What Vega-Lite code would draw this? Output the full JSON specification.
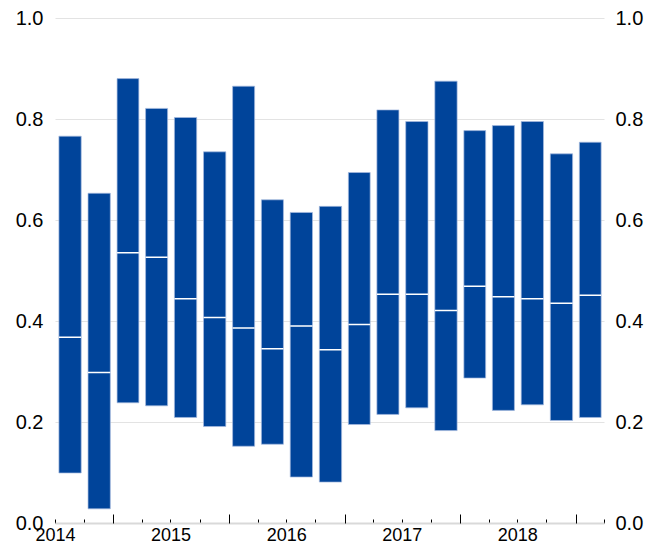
{
  "$schema": "https://vega.github.io/schema/vega-lite/v6.json",
  "width": 549,
  "height": 505,
  "autosize": {"type": "none"},
  "padding": {"left": 55, "top": 18, "right": 57, "bottom": 26},
  "background": "white",
  "config": {
    "view": {"stroke": null},
    "font": "Liberation Sans",
    "axis": {"labelFont": "Liberation Sans", "labelColor": "#000000", "titleFont": "Liberation Sans"}
  },
  "data": {
    "values": [
      {"date": "2014/08/15", "low": 0.099, "median": 0.368, "high": 0.766},
      {"date": "2014/11/15", "low": 0.028, "median": 0.298, "high": 0.653},
      {"date": "2015/02/15", "low": 0.238, "median": 0.535, "high": 0.880},
      {"date": "2015/05/15", "low": 0.232, "median": 0.526, "high": 0.821},
      {"date": "2015/08/15", "low": 0.209, "median": 0.444, "high": 0.803},
      {"date": "2015/11/15", "low": 0.191, "median": 0.407, "high": 0.735},
      {"date": "2016/02/15", "low": 0.152, "median": 0.386, "high": 0.865},
      {"date": "2016/05/15", "low": 0.156, "median": 0.345, "high": 0.640},
      {"date": "2016/08/15", "low": 0.091, "median": 0.390, "high": 0.615},
      {"date": "2016/11/15", "low": 0.081, "median": 0.343, "high": 0.627},
      {"date": "2017/02/15", "low": 0.195, "median": 0.393, "high": 0.694},
      {"date": "2017/05/15", "low": 0.215, "median": 0.453, "high": 0.818},
      {"date": "2017/08/15", "low": 0.228, "median": 0.453, "high": 0.795},
      {"date": "2017/11/15", "low": 0.183, "median": 0.421, "high": 0.875},
      {"date": "2018/02/15", "low": 0.287, "median": 0.469, "high": 0.777},
      {"date": "2018/05/15", "low": 0.223, "median": 0.448, "high": 0.787},
      {"date": "2018/08/15", "low": 0.234, "median": 0.444, "high": 0.795},
      {"date": "2018/11/15", "low": 0.203, "median": 0.435, "high": 0.731},
      {"date": "2019/02/15", "low": 0.209, "median": 0.451, "high": 0.754}
    ]
  },
  "resolve": {"axis": {"x": "independent", "y": "independent"}},
  "layer": [
    {
      "mark": {"type": "bar", "width": {"band": 0.8}, "color": "#00449a", "stroke": "#a7bbdf", "strokeWidth": 0.7},
      "encoding": {
        "x": {
          "field": "date", "timeUnit": "yearquarter", "type": "temporal", "title": null,
          "scale": {"domain": [{"year": 2014, "month": 7, "date": 1}, {"year": 2019, "month": 4, "date": 1}]},
          "axis": {
            "orient": "bottom",
            "values": [
              {"year": 2014, "month": 7, "date": 1}, {"year": 2014, "month": 10, "date": 1},
              {"year": 2015, "month": 1, "date": 1}, {"year": 2015, "month": 4, "date": 1}, {"year": 2015, "month": 7, "date": 1}, {"year": 2015, "month": 10, "date": 1},
              {"year": 2016, "month": 1, "date": 1}, {"year": 2016, "month": 4, "date": 1}, {"year": 2016, "month": 7, "date": 1}, {"year": 2016, "month": 10, "date": 1},
              {"year": 2017, "month": 1, "date": 1}, {"year": 2017, "month": 4, "date": 1}, {"year": 2017, "month": 7, "date": 1}, {"year": 2017, "month": 10, "date": 1},
              {"year": 2018, "month": 1, "date": 1}, {"year": 2018, "month": 4, "date": 1}, {"year": 2018, "month": 7, "date": 1}, {"year": 2018, "month": 10, "date": 1},
              {"year": 2019, "month": 1, "date": 1}, {"year": 2019, "month": 4, "date": 1}
            ],
            "labelExpr": "month(datum.value) == 6 ? timeFormat(datum.value, '%Y') : ''",
            "labelFlush": false,
            "labelOverlap": false,
            "labelFontSize": 18,
            "labelPadding": 7,
            "tickSize": -4,
            "tickColor": "#000000",
            "tickWidth": 1,
            "domainColor": "#d9d9d9",
            "domainWidth": 2,
            "grid": false
          }
        },
        "y": {
          "field": "low", "type": "quantitative", "title": null,
          "scale": {"domain": [0, 1], "nice": false},
          "axis": {
            "orient": "left",
            "values": [0, 0.2, 0.4, 0.6, 0.8, 1.0],
            "format": ".1f",
            "labelFontSize": 20,
            "labelPadding": 12,
            "ticks": false,
            "domain": false,
            "grid": true,
            "gridColor": "#e3e3e3",
            "gridWidth": 1.2
          }
        },
        "y2": {"field": "high"}
      }
    },
    {
      "mark": {"type": "bar", "width": {"band": 0.8}, "color": "#ffffff", "stroke": "#ffffff", "strokeWidth": 1.5},
      "encoding": {
        "x": {
          "field": "date", "timeUnit": "yearquarter", "type": "temporal", "title": null,
          "axis": {
            "orient": "bottom",
            "values": [
              {"year": 2015, "month": 1, "date": 1}, {"year": 2016, "month": 1, "date": 1},
              {"year": 2017, "month": 1, "date": 1}, {"year": 2018, "month": 1, "date": 1},
              {"year": 2019, "month": 1, "date": 1}
            ],
            "labels": false,
            "domain": false,
            "grid": false,
            "tickSize": -9,
            "tickColor": "#000000",
            "tickWidth": 1
          }
        },
        "y": {
          "field": "median", "type": "quantitative", "title": null,
          "axis": {
            "orient": "right",
            "values": [0, 0.2, 0.4, 0.6, 0.8, 1.0],
            "format": ".1f",
            "labelFontSize": 20,
            "labelPadding": 11,
            "ticks": false,
            "domain": false,
            "grid": false
          }
        },
        "y2": {"field": "median"}
      }
    }
  ]
}
